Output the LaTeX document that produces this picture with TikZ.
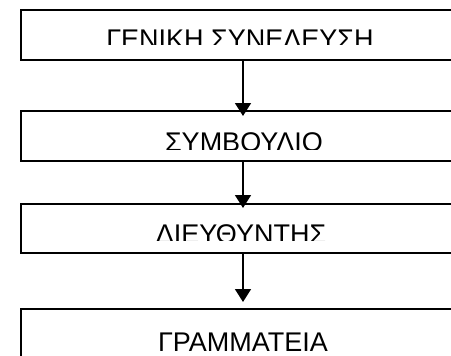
\documentclass[tikz,border=0pt]{standalone}
\usepackage{fontspec}
\setmainfont{Liberation Sans}
\usetikzlibrary{arrows.meta}
\begin{document}
\begin{tikzpicture}[x=1pt,y=-1pt,
  orgbox/.style={draw=black,line width=1.6pt,minimum width=444pt,inner sep=0pt,outer sep=0pt},
  orgtext/.style={anchor=base,inner sep=0pt,font=\fontsize{27}{30}\selectfont},
  orgarrow/.style={line width=1.6pt,-{Triangle[width=16pt,length=13pt]}}]
\useasboundingbox (0,0) rectangle (451,356);
\clip (0,0) rectangle (451,356);
\node[orgbox,minimum height=50pt] (b1) at (243,35) {};
\node[orgbox,minimum height=50pt] (b2) at (243,136) {};
\node[orgbox,minimum height=49pt] (b3) at (243,228.5) {};
\node[orgbox,minimum height=90pt] (b4) at (243,354) {};
\begin{scope}
\clip (22,11) rectangle (464,44);
\node[orgtext] (t1) at (240,48.5) {ΓΕΝΙΚΗ ΣΥΝΕΛΕΥΣΗ};
\end{scope}
\begin{scope}
\clip (22,112) rectangle (464,149);
\node[orgtext] (t2) at (244,151.8) {ΣΥΜΒΟΥΛΙΟ};
\end{scope}
\begin{scope}
\clip (22,205) rectangle (464,240);
\node[orgtext] (t3) at (241,243) {ΔΙΕΥΘΥΝΤΗΣ};
\end{scope}
\begin{scope}
\clip (22,310) rectangle (464,356);
\node[orgtext] (t4) at (243,351) {ΓΡΑΜΜΑΤΕΙΑ};
\end{scope}
\draw[orgarrow,shorten >=-5pt] (b1.south) -- (b2.north);
\draw[orgarrow,shorten >=-4pt] (b2.south) -- (b3.north);
\draw[orgarrow,shorten >=7pt] (b3.south) -- (b4.north);
\end{tikzpicture}
\end{document}
